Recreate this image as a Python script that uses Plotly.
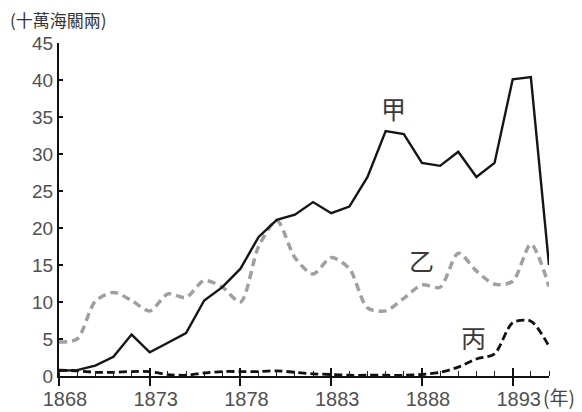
import plotly.graph_objects as go

years = list(range(1868, 1896))

# 甲 (solid black)
jia = [0.7, 0.8, 1.4, 2.6, 5.6, 3.2, 4.5, 5.8, 10.2, 12.0, 14.5, 18.8, 21.1, 21.8,
       23.5, 22.0, 22.9, 26.9, 33.1, 32.7, 28.8, 28.4, 30.3, 26.9, 28.8, 40.1, 40.4, 15.0]
# 乙 (grey dashed)
yi = [4.6, 5.0, 10.1, 11.3, 10.2, 8.8, 11.1, 10.6, 12.9, 12.0, 10.0, 17.5, 21.0, 16.0,
      13.8, 16.0, 14.5, 9.2, 8.8, 10.5, 12.3, 12.0, 16.6, 14.2, 12.4, 12.8, 17.8, 12.1]
# 丙 (black dashed)
bing = [0.8, 0.7, 0.5, 0.5, 0.6, 0.6, 0.2, 0.1, 0.4, 0.6, 0.6, 0.6, 0.7, 0.5,
        0.3, 0.2, 0.1, 0.1, 0.1, 0.1, 0.2, 0.5, 1.2, 2.3, 3.0, 7.2, 7.4, 4.0]

x_ticks = [1868, 1873, 1878, 1883, 1888, 1893]
x_ticklabels = ["1868", "1873", "1878", "1883", "1888", "1893"]
y_ticks = [0, 5, 10, 15, 20, 25, 30, 35, 40, 45]

series_labels = [("甲", 1886.45, 36.2), ("乙", 1887.95, 15.7), ("丙", 1890.85, 5.3)]
unit_label = "(十萬海關兩)"
year_label = "(年)"

CJK = "Noto Sans CJK TC, Noto Sans CJK SC, sans-serif"
NUM = "Liberation Sans, Arial, sans-serif"

fig = go.Figure()
fig.add_trace(go.Scatter(x=years, y=yi, mode="lines",
                         line=dict(color="#a0a0a0", width=3.5, dash="8px,5px",
                                   shape="spline", smoothing=0.8),
                         showlegend=False, hoverinfo="skip"))
fig.add_trace(go.Scatter(x=years, y=bing, mode="lines",
                         line=dict(color="#111111", width=2.8, dash="8px,4px",
                                   shape="spline", smoothing=0.8),
                         showlegend=False, hoverinfo="skip"))
fig.add_trace(go.Scatter(x=years, y=jia, mode="lines",
                         line=dict(color="#151515", width=2.4),
                         showlegend=False, hoverinfo="skip"))

for txt, xv, yv in series_labels:
    fig.add_annotation(x=xv, y=yv, text=txt, showarrow=False,
                       font=dict(family=CJK, size=25, color="#3a3a3a"),
                       xanchor="center", yanchor="middle")

fig.add_annotation(xref="paper", yref="paper", x=-0.104, y=1.072, text=unit_label,
                   showarrow=False, xanchor="left", yanchor="middle",
                   font=dict(family=CJK, size=17, color="#333333"))
fig.add_annotation(xref="paper", yref="paper", x=0.984, y=-0.063, text=year_label,
                   showarrow=False, xanchor="left", yanchor="middle",
                   font=dict(family=CJK, size=19, color="#444444"))

# page body has an 8px margin, so the figure is sized to fit the window from (8, 8)
fig.update_layout(
    width=574, height=404,
    margin=dict(l=51, r=33, t=35, b=36, autoexpand=False),
    paper_bgcolor="white", plot_bgcolor="white",
    xaxis=dict(range=[1868, 1895], tickvals=x_ticks, ticktext=x_ticklabels,
               automargin=False,
               showgrid=False, zeroline=False, showline=True, linecolor="#111111",
               linewidth=2, ticks="outside", ticklen=8, tickwidth=1.5,
               tickcolor="#111111", ticklabelshift=6, ticklabelstandoff=-4,
               tickfont=dict(family=NUM, size=20, color="#505050"),
               minor=dict(dtick=1, tick0=1868, ticks="inside", ticklen=5,
                          tickwidth=1, tickcolor="#222222", showgrid=False)),
    xaxis2=dict(overlaying="x", matches="x", side="bottom", anchor="y",
                automargin=False,
                tickvals=x_ticks, showticklabels=False, ticks="inside",
                ticklen=8, tickwidth=1.5, tickcolor="#111111",
                showgrid=False, zeroline=False, showline=False),
    yaxis=dict(range=[0, 45], tickvals=y_ticks, showgrid=False, zeroline=False,
               automargin=False,
               showline=True, linecolor="#111111", linewidth=2,
               ticks="inside", ticklen=4, tickwidth=1.5, tickcolor="#111111",
               tickfont=dict(family=NUM, size=19, color="#505050")),
)

# invisible trace on xaxis2 so the overlay axis is drawn
fig.add_trace(go.Scatter(x=[1868, 1895], y=[None, None], xaxis="x2", yaxis="y",
                         mode="lines", showlegend=False, hoverinfo="skip"))

fig.write_html("out.html")
